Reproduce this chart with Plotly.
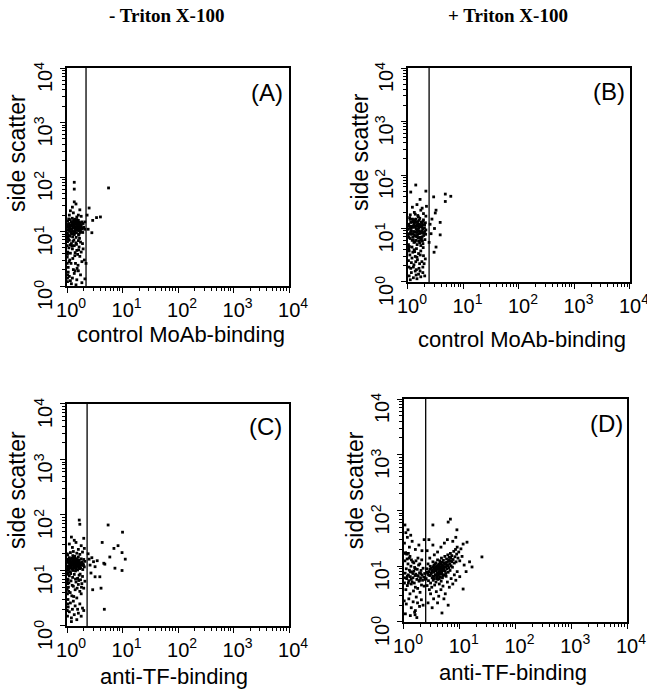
import plotly.graph_objects as go

# --- dados (fluorescência vs side scatter, escala log) ---
panel_names = ["(A)", "(B)", "(C)", "(D)"]
x_titles = ["control MoAb-binding", "control MoAb-binding", "anti-TF-binding", "anti-TF-binding"]
col_titles = ["- Triton X-100", "+ Triton X-100"]
gate_x = [2.2, 2.4, 2.3, 2.45]
tick_vals = [1, 10, 100, 1000, 10000]
tick_text = ["10<sup>0</sup>", "10<sup>1</sup>", "10<sup>2</sup>", "10<sup>3</sup>", "10<sup>4</sup>"]

pts_a = [
    (1.02, 9.5), (1.05, 12), (1.08, 14), (1.1, 10.5), (1.12, 8.2), (1.15, 13), (1.18, 11), (1.2, 15),
    (1.22, 9), (1.25, 12.5), (1.28, 10), (1.3, 14.5), (1.33, 11.5), (1.35, 8.8), (1.38, 13.5), (1.4, 10.2),
    (1.42, 15.5), (1.45, 12), (1.48, 9.5), (1.5, 11), (1.52, 14), (1.55, 13), (1.58, 10.5), (1.6, 16),
    (1.62, 12), (1.65, 9), (1.68, 13.5), (1.7, 11), (1.75, 14.5), (1.78, 10), (1.03, 15.5), (1.06, 8.5),
    (1.09, 11.5), (1.13, 16.5), (1.16, 9.8), (1.19, 12.8), (1.23, 14), (1.26, 8), (1.29, 11.8), (1.32, 16),
    (1.36, 9.3), (1.39, 12.2), (1.43, 13.8), (1.46, 7.8), (1.49, 15), (1.53, 10.8), (1.57, 12.6), (1.61, 8.6),
    (1.64, 14.8), (1.69, 12.3), (1.73, 9.6), (1.8, 13), (1.85, 15), (1.9, 11.5), (1.95, 14), (2.0, 12),
    (1.04, 10.8), (1.11, 13.2), (1.21, 10.9), (1.31, 12.9), (1.41, 11.3), (1.51, 13.3), (1.01, 12.4),
    (1.07, 17), (1.24, 17.5), (1.37, 16.8),
    (1.14, 11.8), (1.27, 13.6), (1.34, 9.9), (1.44, 10.7), (1.56, 11.7), (1.66, 10.4), (1.72, 12.8),
    (1.06, 13.5), (1.18, 9.2), (1.47, 13.9), (1.59, 14.6), (1.83, 11.2), (1.1, 11.9), (1.26, 15.2),
    (1.5, 16.6), (1.39, 14.9), (1.63, 10.9), (1.77, 12.4), (1.92, 9.6), (2.08, 11),
    (1.01, 5.5), (1.02, 3.8), (1.01, 2.6), (1.03, 7.8), (1.02, 1.4),
    (1.02, 6.5), (1.08, 5), (1.15, 4), (1.2, 6), (1.27, 3.2), (1.35, 5.5), (1.42, 2.6), (1.5, 4.5),
    (1.6, 6.8), (1.7, 3.5), (1.05, 2.2), (1.12, 3), (1.3, 2), (1.45, 6.2), (1.55, 3.8), (1.65, 5.2),
    (1.8, 4.2), (1.9, 6), (2.05, 3), (1.03, 4.2), (1.1, 6.9), (1.18, 2.6), (1.25, 4.8), (1.38, 3.6),
    (1.48, 5.8), (1.58, 2.4), (1.75, 6.4), (1.85, 2.8), (1.01, 3.4), (1.06, 7.2), (1.22, 5.4), (1.33, 7),
    (1.62, 4.6), (1.95, 4.8), (1.14, 5.7), (1.4, 4.1), (1.52, 2.1), (1.68, 7.5), (1.28, 6.6), (1.09, 2.8),
    (1.02, 1.2), (1.1, 1.5), (1.2, 1.1), (1.35, 1.7), (1.5, 1.3), (1.6, 1.9), (1.05, 1.8), (1.25, 1.4),
    (1.45, 1.05), (1.75, 1.6), (1.15, 1.25), (2.1, 1.35), (1.03, 1.6), (1.4, 1.9), (1.85, 1.15),
    (1.1, 20), (1.3, 22), (1.5, 18.5), (1.7, 25), (1.25, 28), (1.45, 32), (1.15, 24), (1.6, 20),
    (1.8, 19), (1.35, 35),
    (1.35, 80), (1.35, 60), (5.6, 63), (2.5, 27), (3.4, 18), (4.0, 18.5), (2.9, 16), (2.8, 9.5),
    (2.3, 20), (2.1, 15), (2.4, 11), (2.2, 2.6),
]

pts_b = [
    (1.02, 5), (1.05, 8), (1.08, 11), (1.1, 6.5), (1.12, 13), (1.15, 9), (1.18, 4.5), (1.2, 15),
    (1.22, 7), (1.25, 10.5), (1.28, 5.5), (1.3, 12.5), (1.33, 8.5), (1.35, 14), (1.38, 6), (1.4, 10),
    (1.42, 4.2), (1.45, 11.5), (1.48, 7.5), (1.5, 13.5), (1.53, 9.5), (1.55, 5.8), (1.58, 12), (1.6, 8),
    (1.63, 15.5), (1.65, 6.8), (1.68, 10.8), (1.7, 4.8), (1.73, 13), (1.76, 9), (1.8, 7), (1.83, 11.8),
    (1.86, 5.2), (1.9, 14.5), (1.94, 8.2), (1.98, 10.2), (2.02, 6.2), (2.06, 12.8), (2.1, 9.4), (1.03, 12),
    (1.06, 4.6), (1.09, 14.8), (1.13, 7.8), (1.16, 11), (1.19, 6), (1.23, 13.8), (1.26, 8.8), (1.29, 4),
    (1.32, 10.8), (1.36, 7.2), (1.39, 15), (1.43, 9.2), (1.46, 5), (1.49, 12.2), (1.52, 6.6), (1.56, 10.4),
    (1.59, 14.2), (1.62, 5.4), (1.66, 8.6), (1.71, 11.2), (1.75, 6.4), (1.79, 12.6), (1.84, 9.8), (1.88, 4.4),
    (1.92, 7.4), (1.01, 9.6), (1.04, 6.8), (1.07, 16), (1.11, 10), (1.17, 13.2), (1.21, 8), (1.27, 11.6),
    (1.34, 5.6), (1.41, 13), (1.47, 8.4), (1.54, 16.5), (1.64, 11.6), (1.72, 8.2), (1.85, 13.6), (2.0, 8.8),
    (1.14, 10.2), (1.24, 6.2), (1.37, 11.2), (1.44, 7), (1.57, 9), (1.69, 6), (1.78, 10.6), (1.89, 8.4),
    (1.31, 7.6), (1.11, 8.6), (1.01, 7.2), (1.02, 11), (1.03, 4.2), (1.51, 11), (1.61, 6.8), (1.99, 11.6),
    (2.08, 7.8), (1.27, 14.6), (1.46, 9.6), (1.82, 5.8),
    (1.02, 2.5), (1.08, 3.2), (1.12, 1.8), (1.18, 2.8), (1.22, 3.6), (1.28, 2.1), (1.35, 3), (1.42, 1.7),
    (1.48, 2.6), (1.55, 3.4), (1.62, 2.2), (1.7, 3.8), (1.78, 2.4), (1.9, 3.1), (2.05, 2.7), (1.05, 3.8),
    (1.15, 2.3), (1.25, 1.9), (1.32, 3.7), (1.45, 2.9), (1.58, 1.8), (1.66, 3.2), (1.85, 1.9), (1.04, 1.9),
    (1.38, 2.4), (1.95, 2.2),
    (1.05, 1.3), (1.15, 1.5), (1.25, 1.2), (1.35, 1.6), (1.45, 1.15), (1.55, 1.4), (1.7, 1.25), (1.85, 1.5),
    (1.1, 1.1), (1.4, 1.35), (1.65, 1.6), (2.0, 1.3),
    (1.1, 18), (1.3, 20), (1.5, 17.5), (1.7, 22), (1.9, 19), (2.1, 17), (1.2, 25), (1.45, 28),
    (1.65, 35), (1.8, 24), (1.35, 18.5), (2.15, 26),
    (1.38, 65), (1.12, 48), (2.1, 50), (2.9, 39), (4.7, 44), (5.9, 40), (4.7, 32), (3.2, 22),
    (3.1, 19.5), (3.8, 13), (3.8, 7.6), (3.2, 4.5), (2.95, 3.6), (2.5, 12), (2.6, 8), (2.4, 5.5),
    (2.7, 15), (3.0, 10),
]

pts_c = [
    (1.02, 12), (1.05, 15), (1.08, 10.5), (1.1, 17), (1.12, 13), (1.15, 9.5), (1.18, 14.5), (1.2, 11.5),
    (1.22, 16.5), (1.25, 12.5), (1.28, 10), (1.3, 15.5), (1.33, 13.5), (1.35, 11), (1.38, 18), (1.4, 14),
    (1.42, 9.8), (1.45, 12.8), (1.48, 16), (1.5, 11.8), (1.53, 14.8), (1.55, 10.2), (1.58, 13.2), (1.6, 17.5),
    (1.63, 12.2), (1.66, 15.2), (1.7, 10.8), (1.73, 13.8), (1.76, 11.2), (1.8, 16.2), (1.84, 12.6), (1.88, 14.2),
    (1.92, 10.4), (1.96, 13), (2.0, 15.8), (2.05, 11.6), (2.1, 14.6), (1.03, 19), (1.07, 13.8), (1.13, 11),
    (1.17, 16), (1.23, 13.2), (1.27, 18.5), (1.32, 12), (1.37, 15), (1.43, 11.4), (1.47, 13.6), (1.52, 12.4),
    (1.57, 15.6), (1.62, 11), (1.68, 13.4), (1.01, 16), (1.04, 10), (1.09, 12.2), (1.14, 14), (1.19, 12.8),
    (1.24, 10.6), (1.29, 13), (1.34, 16.8), (1.39, 12.4), (1.44, 14.4), (1.01, 20), (1.15, 21), (1.3, 22),
    (1.5, 20.5), (1.7, 19.5), (1.9, 21.5),
    (1.11, 15.4), (1.21, 13.9), (1.31, 11.2), (1.41, 16.5), (1.51, 13.9), (1.61, 14.4), (1.71, 12.1),
    (1.81, 13.3), (1.06, 11.4), (1.16, 12.2), (1.26, 14.8), (1.36, 12.9), (1.46, 10.6), (1.56, 12.9),
    (1.01, 14.2), (1.02, 10.8), (1.03, 9), (1.01, 6.2), (1.02, 3.8), (1.98, 12.3),
    (1.02, 7), (1.06, 5), (1.1, 8), (1.14, 4), (1.18, 6.5), (1.22, 3.5), (1.26, 7.5), (1.3, 5.2),
    (1.35, 8.5), (1.4, 4.5), (1.45, 6.2), (1.5, 3.2), (1.55, 7.2), (1.6, 5.6), (1.65, 8.2), (1.7, 4.2),
    (1.75, 6.8), (1.8, 3.8), (1.85, 5.8), (1.9, 7.8), (2.0, 4.8), (2.1, 6.4), (1.04, 3), (1.08, 6),
    (1.16, 8.8), (1.24, 5.4), (1.32, 3.4), (1.42, 7), (1.52, 4.8), (1.62, 6.6), (1.72, 8.6), (1.82, 5),
    (1.01, 4.6), (1.03, 5.8), (1.05, 6.8), (1.07, 4.2), (1.02, 8.5),
    (1.02, 1.5), (1.05, 2.2), (1.1, 1.8), (1.15, 2.6), (1.2, 1.4), (1.25, 2), (1.3, 2.8), (1.35, 1.6),
    (1.4, 2.3), (1.5, 1.3), (1.55, 2), (1.6, 1.7), (1.7, 2.5), (1.8, 1.5), (1.9, 2.1), (2.0, 1.9),
    (1.01, 1.9), (1.03, 2.5), (1.2, 1.2),
    (1.1, 30), (1.25, 26), (1.45, 32), (1.6, 24), (1.8, 28), (2.05, 25), (1.35, 35), (1.66, 81),
    (1.7, 68), (1.2, 40), (2.0, 38),
    (5.5, 66), (10, 49), (4.3, 32), (7, 25), (8.3, 28), (9.8, 21), (5.9, 17.5), (11.2, 16),
    (4.6, 13.5), (4.8, 13), (7.3, 11), (9.8, 10), (3.2, 11.7), (3, 14.4), (2.7, 9), (3.2, 7.7),
    (3.9, 7.7), (2.9, 4.5), (4.1, 4.8), (4.7, 2.0), (2.5, 16), (2.6, 12.5), (3.5, 15), (2.4, 20),
    (2.8, 17),
]

pts_d = [
    (1.02, 5), (1.05, 7.5), (1.08, 3.8), (1.1, 9), (1.12, 6), (1.15, 4.5), (1.18, 11), (1.2, 7),
    (1.22, 5.5), (1.25, 8.5), (1.28, 3.2), (1.3, 6.5), (1.33, 10), (1.35, 4.8), (1.38, 7.8), (1.4, 5.2),
    (1.43, 12), (1.45, 6.2), (1.48, 3.6), (1.5, 8.2), (1.53, 5), (1.55, 9.5), (1.58, 6.8), (1.6, 4.2),
    (1.63, 7.2), (1.66, 2.8), (1.7, 5.8), (1.73, 8.8), (1.76, 4), (1.8, 6.6), (1.83, 10.5), (1.86, 5.4),
    (1.9, 7.6), (1.94, 3.4), (1.98, 6.2), (2.02, 8.4), (2.06, 4.6), (2.1, 7), (2.15, 5.6), (2.2, 9.2),
    (2.25, 6.4), (2.3, 4.4), (2.35, 7.4), (2.4, 5.8), (1.03, 17), (1.07, 17.5), (1.12, 16.5), (1.2, 17),
    (1.28, 15), (1.04, 12.5), (1.14, 13.5), (1.24, 14), (1.36, 13), (1.5, 11.5), (1.64, 12.5), (1.78, 14),
    (1.92, 11), (2.08, 13), (1.01, 2.4), (1.1, 2.1), (1.22, 2.6), (1.35, 1.8), (1.46, 2.3), (1.6, 1.6),
    (1.75, 2.2), (1.9, 1.9), (2.05, 2.5), (2.2, 2.0), (1.06, 1.4), (1.3, 1.3), (1.55, 1.5), (1.7, 1.2),
    (1.02, 26), (1.08, 40), (1.04, 55), (1.15, 33), (1.25, 22), (1.4, 28), (1.6, 20), (1.85, 24),
    (2.1, 19), (2.3, 30), (1.18, 45), (1.32, 36),
    (1.15, 6.6), (1.3, 8), (1.45, 7.4), (1.6, 9), (1.75, 6.8), (1.9, 5.6), (1.05, 6.2), (2.0, 7.4),
    (1.2, 5), (1.35, 5.8),
    (2.5, 6), (2.55, 9), (2.6, 4.5), (2.65, 7.5), (2.7, 11), (2.75, 5.5), (2.8, 8), (2.85, 3.8),
    (2.9, 6.8), (2.95, 10), (3.0, 5), (3.05, 7.2), (3.1, 9.2), (3.15, 4.2), (3.2, 6.2), (3.25, 8.6),
    (3.3, 12), (3.35, 5.6), (3.4, 7.8), (3.45, 10.4), (3.5, 6.6), (3.55, 4.6), (3.6, 9), (3.65, 7),
    (3.7, 11.5), (3.75, 5.2), (3.8, 8.2), (3.85, 6), (3.9, 10.2), (3.95, 7.6), (4.0, 13), (4.05, 5.8),
    (4.1, 9.4), (4.15, 6.8), (4.2, 11), (4.25, 8), (4.3, 4.8), (4.35, 7.2), (4.4, 12.5), (4.45, 9.8),
    (4.5, 6.4), (4.55, 8.6), (4.6, 10.8), (4.65, 5.4), (4.7, 14), (4.75, 7.8), (4.8, 9.2), (4.85, 11.8),
    (4.9, 6.2), (4.95, 8.4), (5.0, 10), (5.1, 12.8), (5.2, 7), (5.3, 9.6), (5.4, 15), (5.5, 8.2),
    (5.6, 11.2), (5.7, 6.6), (5.8, 13.5), (5.9, 9), (6.0, 10.6), (6.1, 16), (6.2, 7.8), (6.3, 12.2),
    (6.4, 9.4), (6.5, 14.5), (6.6, 11), (6.7, 8.4), (6.8, 17), (6.9, 12.6), (7.0, 10.2), (7.2, 15.5),
    (7.4, 9.6), (7.6, 13.2), (7.8, 18.5), (8.0, 11.4), (8.2, 14.8), (8.4, 20), (8.6, 12), (8.8, 16.5),
    (9.0, 22), (9.3, 14), (9.6, 18), (10.0, 12.5), (10.5, 20.5), (11, 15), (11.5, 25), (12, 10.5),
    (3.2, 8.2), (3.5, 9.4), (3.8, 7), (4.1, 10.2), (4.4, 7.8), (4.7, 9.6), (5.0, 8.4), (5.3, 11.4),
    (5.6, 7.4), (3.3, 6.6), (3.6, 10.8), (4.0, 6), (4.3, 8.8), (4.9, 10.6), (5.8, 11.8), (6.4, 13),
    (6.9, 14.2), (7.2, 12), (2.9, 8.8), (2.6, 7.8),
    (3.0, 3.2), (3.4, 2.6), (3.8, 3.5), (4.2, 2.9), (4.6, 3.8), (5.0, 4.4), (5.5, 3.2), (6.0, 5.2),
    (6.5, 4.2), (7.0, 6), (7.5, 4.8), (8.0, 7), (8.5, 5.6), (9, 8), (10, 6.5), (2.7, 2.2),
    (3.2, 1.8), (4.0, 2.2), (5.2, 2.6), (6.2, 2.0), (2.9, 14), (3.5, 16), (4.0, 18), (4.6, 22),
    (5.3, 26), (2.6, 19), (3.3, 24), (2.8, 30), (6.0, 30), (7.5, 28), (8.5, 33),
    (3.1, 7.6), (3.6, 8.4), (4.1, 7.4), (4.4, 9), (4.8, 7.2), (5.2, 8.8), (3.3, 9.8), (3.9, 6.4),
    (4.5, 11.6), (5.6, 9.8), (2.75, 7), (3.45, 6), (4.25, 10.6), (5.05, 6.8), (3.95, 8.8), (4.6, 7.6),
    (5.4, 10.8), (6.2, 10.2), (3.7, 9.6), (4.3, 6),
    (6.8, 70), (6.2, 62), (3.3, 55), (8.9, 45), (13.5, 27), (16.6, 9.7), (11.5, 3.9), (4.8, 1.45),
    (1.58, 1.35), (25, 14.7), (15, 12), (13, 8),
]

panels = [pts_a, pts_b, pts_c, pts_d]

# --- layout (domínios em fração do papel) ---
x_domains = [[0.1036, 0.4467], [0.6306, 0.9737], [0.1036, 0.4467], [0.6244, 0.9691]]
y_domains = [[0.5867, 0.9017], [0.5925, 0.9017], [0.0954, 0.4162], [0.1012, 0.4234]]
label_pos = [(0.90, 0.89), (0.905, 0.888), (0.896, 0.90), (0.906, 0.888)]
xtitle_pos = [(0.2798, 0.5159), (0.8068, 0.5101), (0.2689, 0.0217), (0.7929, 0.0289)]
ytitle_pos = [(0.0263, 0.7789), (0.5565, 0.7803), (0.0263, 0.2919), (0.5490, 0.2919)]

SANS = "Liberation Sans, Arial, sans-serif"
minor_vals = [m * 10 ** k for k in range(4) for m in range(2, 10)]


def eixo_log(domain, anchor, vertical):
    d = dict(
        type="log", range=[0, 4], domain=domain, anchor=anchor, automargin=False,
        tickmode="array", tickvals=tick_vals, ticktext=tick_text,
        ticks="outside", ticklen=5, tickwidth=1, tickcolor="black",
        showline=True, linecolor="black", linewidth=1.5, mirror=True,
        showgrid=False, zeroline=False, ticklabeloverflow="allow",
        tickfont=dict(family=SANS, size=20, color="black"),
        minor=dict(tickmode="array", tickvals=minor_vals, ticks="outside",
                   ticklen=3, tickcolor="black", showgrid=False),
    )
    if vertical:
        d.update(tickangle=-90, ticklabelshift=12)
    else:
        d.update(ticklabelshift=4)
    return d


fig = go.Figure()
annotations = []

for i, pts in enumerate(panels):
    n = "" if i == 0 else str(i + 1)
    xs = [p[0] for p in pts]
    ys = [p[1] for p in pts]
    fig.add_trace(go.Scatter(
        x=xs, y=ys, mode="markers", xaxis="x" + n, yaxis="y" + n,
        marker=dict(symbol="square", size=2.8, color="black", line=dict(width=0)),
        showlegend=False, hoverinfo="skip",
    ))
    # linha do gate
    fig.add_trace(go.Scatter(
        x=[gate_x[i], gate_x[i]], y=[1, 10000], mode="lines", xaxis="x" + n, yaxis="y" + n,
        line=dict(color="black", width=1.3), showlegend=False, hoverinfo="skip",
    ))
    fig.layout["xaxis" + n] = eixo_log(x_domains[i], "y" + n, False)
    fig.layout["yaxis" + n] = eixo_log(y_domains[i], "x" + n, True)

    annotations.append(dict(
        text=panel_names[i], xref="x" + n + " domain", yref="y" + n + " domain",
        x=label_pos[i][0], y=label_pos[i][1], xanchor="center", yanchor="middle",
        showarrow=False, font=dict(family=SANS, size=24, color="black"),
    ))
    annotations.append(dict(
        text=x_titles[i], xref="paper", yref="paper", x=xtitle_pos[i][0], y=xtitle_pos[i][1],
        xanchor="center", yanchor="middle", showarrow=False,
        font=dict(family=SANS, size=22, color="black"),
    ))
    annotations.append(dict(
        text="side scatter", xref="paper", yref="paper", x=ytitle_pos[i][0], y=ytitle_pos[i][1],
        xanchor="center", yanchor="middle", textangle=-90, showarrow=False,
        font=dict(family=SANS, size=23, color="black"),
    ))

for t, xp in zip(col_titles, [0.258, 0.785]):
    annotations.append(dict(
        text="<b>" + t + "</b>", xref="paper", yref="paper", x=xp, y=0.978,
        xanchor="center", yanchor="middle", showarrow=False,
        font=dict(family="Liberation Serif, Times New Roman, serif", size=19, color="black"),
    ))

fig.update_layout(
    width=647, height=692,
    margin=dict(l=0, r=0, t=0, b=0),
    paper_bgcolor="white", plot_bgcolor="white",
    annotations=annotations,
)

# a página padrão tem margem de 8px no body; zera para o gráfico ocupar a janela toda
fig.write_html("out.html", config={"displayModeBar": False},
               post_script="document.body.style.margin='0px';")
